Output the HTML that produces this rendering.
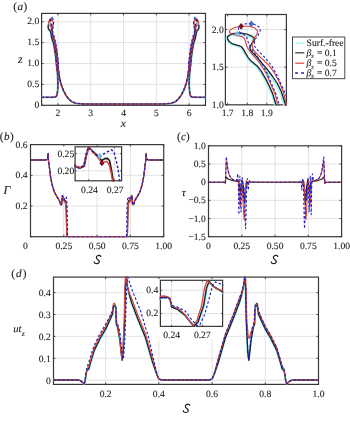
<!DOCTYPE html>
<html><head><meta charset="utf-8"><style>html,body{margin:0;padding:0;background:#fff;}svg{display:block;}text{font-family:"Liberation Serif", serif;fill:#1a1a1a;}svg{will-change:transform;filter:blur(0.3px);}text{text-rendering:geometricPrecision;stroke:#1a1a1a;stroke-width:0.1px;}</style></head><body>
<svg width="350" height="423" viewBox="0 0 350 423">
<rect width="350" height="423" fill="#fff"/>
<line x1="57.99" y1="13.4" x2="57.99" y2="105.3" stroke="#dedede" stroke-width="0.9"/>
<line x1="90.77" y1="13.4" x2="90.77" y2="105.3" stroke="#dedede" stroke-width="0.9"/>
<line x1="123.55" y1="13.4" x2="123.55" y2="105.3" stroke="#dedede" stroke-width="0.9"/>
<line x1="156.33" y1="13.4" x2="156.33" y2="105.3" stroke="#dedede" stroke-width="0.9"/>
<line x1="189.11" y1="13.4" x2="189.11" y2="105.3" stroke="#dedede" stroke-width="0.9"/>
<line x1="41.6" y1="84.41" x2="205.5" y2="84.41" stroke="#dedede" stroke-width="0.9"/>
<line x1="41.6" y1="63.53" x2="205.5" y2="63.53" stroke="#dedede" stroke-width="0.9"/>
<line x1="41.6" y1="42.64" x2="205.5" y2="42.64" stroke="#dedede" stroke-width="0.9"/>
<line x1="41.6" y1="21.75" x2="205.5" y2="21.75" stroke="#dedede" stroke-width="0.9"/>
<path d="M57.99 105.3v-2M57.99 13.4v2M90.77 105.3v-2M90.77 13.4v2M123.55 105.3v-2M123.55 13.4v2M156.33 105.3v-2M156.33 13.4v2M189.11 105.3v-2M189.11 13.4v2M41.6 105.3h2M205.5 105.3h-2M41.6 84.41h2M205.5 84.41h-2M41.6 63.53h2M205.5 63.53h-2M41.6 42.64h2M205.5 42.64h-2M41.6 21.75h2M205.5 21.75h-2" stroke="#383838" stroke-width="0.9" fill="none"/>
<rect x="41.6" y="13.4" width="163.9" height="91.9" fill="none" stroke="#383838" stroke-width="1.2"/>
<clipPath id="c1"><rect x="40.9" y="12.7" width="165.3" height="93.3"/></clipPath>
<g clip-path="url(#c1)">
<polyline points="41.6,97.36 50.78,97.36 54.06,97.28 55.86,96.74 56.84,95.27 57.5,91.93 57.69,84.41 57.37,73.97 56.1,63.8 55.58,57.98 54.99,53.54 54.42,49.7 53.65,45.26 52.9,42.1 52,39.66 51.41,37.44 50.98,34.99 50.69,33.16 50.34,31.72 49.99,31.05 49.4,30.55 48.73,29.83 48.26,28.72 48,27.22 48.03,26 48.31,25.45 48.87,24.72 49.62,24.39 50.22,24.39 51.14,24.89 51.91,25.89 52.37,26.94 52.45,28.22 52.21,29.44 51.91,30.72 51.7,32.27 51.78,33.66 52.13,35.16 52.8,37.38 53.57,40.55 54.54,44.26 55.45,48.21 56.3,52.37 56.99,57.09 57.66,64.19 57.86,65.62 58.68,73.97 59.83,80.24 61.14,84.83 63.1,90.26 65.56,94.86 68.48,98.83 71.76,101.75 76.02,103.29 82.58,103.92 97.33,104.05 123.55,104.05 149.77,104.05 164.53,103.92 171.08,103.29 175.34,101.75 178.62,98.83 181.54,94.86 184,90.26 185.96,84.83 187.27,80.24 188.42,73.97 189.24,65.62 189.44,64.19 190.11,57.09 190.8,52.37 191.65,48.21 192.56,44.26 193.53,40.55 194.3,37.38 194.97,35.16 195.32,33.66 195.4,32.27 195.19,30.72 194.89,29.44 194.65,28.22 194.73,26.94 195.19,25.89 195.96,24.89 196.88,24.39 197.48,24.39 198.23,24.72 198.79,25.45 199.07,26 199.1,27.22 198.84,28.72 198.37,29.83 197.7,30.55 197.11,31.05 196.76,31.72 196.41,33.16 196.12,34.99 195.69,37.44 195.1,39.66 194.2,42.1 193.45,45.26 192.68,49.7 192.11,53.54 191.52,57.98 191,63.8 189.73,73.97 189.41,84.41 189.6,91.93 190.26,95.27 191.24,96.74 193.04,97.28 196.32,97.36 205.5,97.36" fill="none" stroke="#a4f2f2" stroke-width="2.125" stroke-linejoin="round" stroke-linecap="butt"/>
<polyline points="41.6,97.36 50.78,97.36 54.06,97.28 55.86,96.74 56.84,95.27 57.5,91.93 57.83,84.41 57.5,73.97 56.25,63.53 55.73,57.7 55.14,53.26 54.58,49.43 53.81,44.99 53.05,41.82 52.15,39.38 51.56,37.16 51.13,34.72 50.84,32.88 50.49,31.44 50.14,30.78 49.55,30.28 48.88,29.55 48.42,28.44 48.15,26.94 48.15,25.67 48.5,24.78 49.05,24.06 49.8,23.73 50.41,23.73 51.33,24.22 52.1,25.22 52.55,26.28 52.63,27.56 52.4,28.78 52.1,30.05 51.88,31.61 51.96,33 52.32,34.49 52.98,36.72 53.75,39.88 54.73,43.6 55.63,47.54 56.48,51.7 57.17,56.42 57.84,63.53 57.99,65.62 58.81,73.97 59.96,80.24 61.27,84.83 63.23,90.26 65.69,94.86 68.48,98.83 71.76,101.75 76.02,103.29 82.58,103.92 97.33,104.05 123.55,104.05 149.77,104.05 164.53,103.92 171.08,103.29 175.34,101.75 178.62,98.83 181.41,94.86 183.87,90.26 185.83,84.83 187.14,80.24 188.29,73.97 189.11,65.62 189.26,63.53 189.93,56.42 190.62,51.7 191.47,47.54 192.37,43.6 193.35,39.88 194.12,36.72 194.78,34.49 195.14,33 195.22,31.61 195,30.05 194.7,28.78 194.47,27.56 194.55,26.28 195,25.22 195.77,24.22 196.69,23.73 197.3,23.73 198.05,24.06 198.6,24.78 198.95,25.67 198.95,26.94 198.68,28.44 198.22,29.55 197.55,30.28 196.96,30.78 196.61,31.44 196.26,32.88 195.97,34.72 195.54,37.16 194.95,39.38 194.05,41.82 193.29,44.99 192.52,49.43 191.96,53.26 191.37,57.7 190.85,63.53 189.6,73.97 189.27,84.41 189.6,91.93 190.26,95.27 191.24,96.74 193.04,97.28 196.32,97.36 205.5,97.36" fill="none" stroke="#1c1c1c" stroke-width="1.312" stroke-linejoin="round" stroke-linecap="butt"/>
<polyline points="41.6,97.36 50.78,97.36 54.06,97.28 55.86,96.74 56.84,95.27 57.5,91.93 57.96,84.41 57.63,73.97 56.52,63.53 56.15,58.09 55.4,52.26 54.71,46.71 54.11,43.38 53.57,40.55 52.83,37.55 52.06,34.55 51.61,32.55 51.33,30.89 51.16,28.67 50.99,26.72 50.61,25.67 49.84,25.11 49.07,24.5 48.6,23.73 48.43,22.89 48.63,21.73 49.45,20.51 50.41,19.95 51.75,19.95 52.72,20.89 53.17,22.67 53.02,24.67 52.62,26.28 52.33,28.39 52.25,30.78 52.47,33 52.93,34.88 53.57,36.88 54.32,39.21 55.19,42.1 55.91,45.49 56.72,50.32 57.42,55.87 58.02,63.53 58.12,65.62 58.94,73.97 60.09,80.24 61.4,84.83 63.37,90.26 65.82,94.86 68.48,98.83 71.76,101.75 76.02,103.29 82.58,103.92 97.33,104.05 123.55,104.05 149.77,104.05 164.53,103.92 171.08,103.29 175.34,101.75 178.62,98.83 181.28,94.86 183.73,90.26 185.7,84.83 187.01,80.24 188.16,73.97 188.98,65.62 189.08,63.53 189.68,55.87 190.38,50.32 191.19,45.49 191.91,42.1 192.78,39.21 193.53,36.88 194.17,34.88 194.63,33 194.85,30.78 194.77,28.39 194.48,26.28 194.08,24.67 193.93,22.67 194.38,20.89 195.35,19.95 196.69,19.95 197.65,20.51 198.47,21.73 198.67,22.89 198.5,23.73 198.03,24.5 197.26,25.11 196.49,25.67 196.11,26.72 195.94,28.67 195.77,30.89 195.49,32.55 195.04,34.55 194.27,37.55 193.53,40.55 192.99,43.38 192.39,46.71 191.7,52.26 190.95,58.09 190.58,63.53 189.47,73.97 189.14,84.41 189.6,91.93 190.26,95.27 191.24,96.74 193.04,97.28 196.32,97.36 205.5,97.36" fill="none" stroke="#d24444" stroke-width="1.188" stroke-linejoin="round" stroke-linecap="butt"/>
<polyline points="41.6,97.36 50.78,97.36 54.06,97.28 55.86,96.74 56.84,95.27 57.5,91.93 58.09,84.41 57.76,73.97 56.78,63.53 56.32,58.09 55.53,51.98 54.81,46.26 54.34,43.21 53.87,40.32 53.3,37.77 52.67,34.77 52.06,32 51.7,29.78 51.5,27.67 51.29,25.56 50.81,24.45 50.32,23.67 49.99,22.34 49.99,20.78 50.56,19.34 51.41,18.34 52.13,18.34 52.72,19.01 53.4,20.23 53.62,22.34 53.34,24.45 52.9,26.45 52.63,28.67 52.62,30.61 52.9,32.33 53.5,34.33 54.21,36.66 54.98,39.55 55.61,42.27 56.25,46.15 57.1,51.98 57.89,58.09 58.51,63.53 58.25,65.62 59.07,73.97 60.22,80.24 61.53,84.83 63.5,90.26 65.96,94.86 68.48,98.83 71.76,101.75 76.02,103.29 82.58,103.92 97.33,104.05 123.55,104.05 149.77,104.05 164.53,103.92 171.08,103.29 175.34,101.75 178.62,98.83 181.14,94.86 183.6,90.26 185.57,84.83 186.88,80.24 188.03,73.97 188.85,65.62 188.59,63.53 189.21,58.09 190,51.98 190.85,46.15 191.49,42.27 192.12,39.55 192.89,36.66 193.6,34.33 194.2,32.33 194.48,30.61 194.47,28.67 194.2,26.45 193.76,24.45 193.48,22.34 193.7,20.23 194.38,19.01 194.97,18.34 195.69,18.34 196.54,19.34 197.11,20.78 197.11,22.34 196.78,23.67 196.29,24.45 195.81,25.56 195.6,27.67 195.4,29.78 195.04,32 194.43,34.77 193.8,37.77 193.23,40.32 192.76,43.21 192.29,46.26 191.57,51.98 190.78,58.09 190.32,63.53 189.34,73.97 189.01,84.41 189.6,91.93 190.26,95.27 191.24,96.74 193.04,97.28 196.32,97.36 205.5,97.36" fill="none" stroke="#1e1ebe" stroke-width="1.125" stroke-dasharray="2.5,2.0" stroke-linejoin="round" stroke-linecap="butt"/>
<path d="M50.41 18.08L51.91 19.95L50.41 21.83L48.91 19.95Z" fill="#7a1020"/>
<path d="M196.69 18.08L198.19 19.95L196.69 21.83L195.19 19.95Z" fill="#7a1020"/>
<path d="M52.11 16.47L53.61 18.34L52.11 20.22L50.61 18.34Z" fill="#3a6cc8"/>
<path d="M194.99 16.47L196.49 18.34L194.99 20.22L193.49 18.34Z" fill="#3a6cc8"/>
<path d="M49.72 22.02L51.22 23.89L49.72 25.77L48.22 23.89Z" fill="#78b8e0"/>
<path d="M197.38 22.02L198.88 23.89L197.38 25.77L195.88 23.89Z" fill="#78b8e0"/>
</g>
<text x="57.99" y="115.9" text-anchor="middle" font-size="9.6">2</text>
<text x="90.77" y="115.9" text-anchor="middle" font-size="9.6">3</text>
<text x="123.55" y="115.9" text-anchor="middle" font-size="9.6">4</text>
<text x="156.33" y="115.9" text-anchor="middle" font-size="9.6">5</text>
<text x="189.11" y="115.9" text-anchor="middle" font-size="9.6">6</text>
<text x="39.2" y="107.9" text-anchor="end" font-size="9.6">0</text>
<text x="39.2" y="87.01" text-anchor="end" font-size="9.6">0.5</text>
<text x="39.2" y="66.13" text-anchor="end" font-size="9.6">1.0</text>
<text x="39.2" y="45.24" text-anchor="end" font-size="9.6">1.5</text>
<text x="39.2" y="24.35" text-anchor="end" font-size="9.6">2.0</text>
<text x="123.2" y="127.2" text-anchor="middle" font-size="11.5" font-style="italic">x</text>
<text x="20.4" y="62.9" text-anchor="middle" font-size="12" font-style="italic">z</text>
<text x="13.3" y="9.6" font-size="11.2" letter-spacing="0.4">(<tspan font-style="italic">a</tspan>)</text>
<rect x="225.4" y="14.5" width="61" height="90.3" fill="#fff"/>
<line x1="247.23" y1="14.5" x2="247.23" y2="104.8" stroke="#dedede" stroke-width="0.9"/>
<line x1="266.82" y1="14.5" x2="266.82" y2="104.8" stroke="#dedede" stroke-width="0.9"/>
<line x1="225.4" y1="67.18" x2="286.4" y2="67.18" stroke="#dedede" stroke-width="0.9"/>
<line x1="225.4" y1="29.55" x2="286.4" y2="29.55" stroke="#dedede" stroke-width="0.9"/>
<path d="M227.65 104.8v-2M227.65 14.5v2M247.23 104.8v-2M247.23 14.5v2M266.82 104.8v-2M266.82 14.5v2M225.4 104.8h2M286.4 104.8h-2M225.4 67.18h2M286.4 67.18h-2M225.4 29.55h2M286.4 29.55h-2" stroke="#383838" stroke-width="0.9" fill="none"/>
<rect x="225.4" y="14.5" width="61" height="90.3" fill="none" stroke="#383838" stroke-width="1.2"/>
<clipPath id="c2"><rect x="224.7" y="13.8" width="62.4" height="91.7"/></clipPath>
<g clip-path="url(#c2)">
<polyline points="188.49,165.75 243.32,165.75 262.9,165.6 273.67,164.62 279.55,161.99 283.46,155.97 284.64,142.42 282.68,123.61 275.1,105.3 272,94.8 268.5,86.8 265.1,79.9 260.5,71.9 256,66.2 250.6,61.8 247.1,57.8 244.5,53.4 242.8,50.1 240.7,47.5 238.6,46.3 235.1,45.4 231.1,44.1 228.3,42.1 226.7,39.4 226.9,37.2 228.6,36.2 231.9,34.9 236.4,34.3 240,34.3 245.5,35.2 250.1,37 252.8,38.9 253.3,41.2 251.9,43.4 250.1,45.7 248.8,48.5 249.3,51 251.4,53.7 255.4,57.7 260,63.4 265.8,70.1 271.2,77.2 276.3,84.7 280.4,93.2 284.4,106 285.62,108.56 290.51,123.61 297.37,134.9 305.2,143.18 316.95,152.96 331.64,161.24 349.06,168.39 368.65,173.65 394.1,176.44 433.27,177.57 521.39,177.79 678.05,177.79 834.71,177.79 922.84,177.57 962,176.44 987.46,173.65 1007.04,168.39 1024.47,161.24 1039.16,152.96 1050.91,143.18 1058.74,134.9 1065.59,123.61 1070.49,108.56 1071.71,106 1075.71,93.2 1079.81,84.7 1084.91,77.2 1090.31,70.1 1096.11,63.4 1100.71,57.7 1104.71,53.7 1106.81,51 1107.31,48.5 1106.01,45.7 1104.21,43.4 1102.81,41.2 1103.31,38.9 1106.01,37 1110.61,35.2 1116.11,34.3 1119.71,34.3 1124.21,34.9 1127.51,36.2 1129.21,37.2 1129.41,39.4 1127.81,42.1 1125.01,44.1 1121.01,45.4 1117.51,46.3 1115.41,47.5 1113.31,50.1 1111.61,53.4 1109.01,57.8 1105.51,61.8 1100.11,66.2 1095.61,71.9 1091.01,79.9 1087.61,86.8 1084.11,94.8 1081.01,105.3 1073.43,123.61 1071.47,142.42 1072.64,155.97 1076.56,161.99 1082.44,164.62 1093.21,165.6 1112.79,165.75 1167.62,165.75" fill="none" stroke="#a4f2f2" stroke-width="2.04" stroke-linejoin="round" stroke-linecap="butt"/>
<polyline points="188.49,165.75 243.32,165.75 262.9,165.6 273.67,164.62 279.55,161.99 283.46,155.97 285.42,142.42 283.46,123.61 276,104.8 272.9,94.3 269.4,86.3 266,79.4 261.4,71.4 256.9,65.7 251.5,61.3 248,57.3 245.4,52.9 243.7,49.6 241.6,47 239.5,45.8 236,44.9 232,43.6 229.2,41.6 227.6,38.9 227.6,36.6 229.7,35 233,33.7 237.5,33.1 241.1,33.1 246.6,34 251.2,35.8 253.9,37.7 254.4,40 253,42.2 251.2,44.5 249.9,47.3 250.4,49.8 252.5,52.5 256.5,56.5 261.1,62.2 266.9,68.9 272.3,76 277.4,83.5 281.5,92 285.5,104.8 286.4,108.56 291.3,123.61 298.15,134.9 305.98,143.18 317.73,152.96 332.42,161.24 349.06,168.39 368.65,173.65 394.1,176.44 433.27,177.57 521.39,177.79 678.05,177.79 834.71,177.79 922.84,177.57 962,176.44 987.46,173.65 1007.04,168.39 1023.69,161.24 1038.37,152.96 1050.12,143.18 1057.96,134.9 1064.81,123.61 1069.71,108.56 1070.61,104.8 1074.61,92 1078.71,83.5 1083.81,76 1089.21,68.9 1095.01,62.2 1099.61,56.5 1103.61,52.5 1105.71,49.8 1106.21,47.3 1104.91,44.5 1103.11,42.2 1101.71,40 1102.21,37.7 1104.91,35.8 1109.51,34 1115.01,33.1 1118.61,33.1 1123.11,33.7 1126.41,35 1128.51,36.6 1128.51,38.9 1126.91,41.6 1124.11,43.6 1120.11,44.9 1116.61,45.8 1114.51,47 1112.41,49.6 1110.71,52.9 1108.11,57.3 1104.61,61.3 1099.21,65.7 1094.71,71.4 1090.11,79.4 1086.71,86.3 1083.21,94.3 1080.11,104.8 1072.64,123.61 1070.69,142.42 1072.64,155.97 1076.56,161.99 1082.44,164.62 1093.21,165.6 1112.79,165.75 1167.62,165.75" fill="none" stroke="#1c1c1c" stroke-width="1.26" stroke-linejoin="round" stroke-linecap="butt"/>
<polyline points="188.49,165.75 243.32,165.75 262.9,165.6 273.67,164.62 279.55,161.99 283.46,155.97 286.2,142.42 284.25,123.61 277.6,104.8 275.4,95 270.9,84.5 266.8,74.5 263.2,68.5 260,63.4 255.6,58 251,52.6 248.3,49 246.6,46 245.6,42 244.6,38.5 242.3,36.6 237.7,35.6 233.1,34.5 230.3,33.1 229.3,31.6 230.5,29.5 235.4,27.3 241.1,26.3 249.1,26.3 254.9,28 257.6,31.2 256.7,34.8 254.3,37.7 252.6,41.5 252.1,45.8 253.4,49.8 256.2,53.2 260,56.8 264.5,61 269.7,66.2 274,72.3 278.8,81 283,91 286.6,104.8 287.18,108.56 292.08,123.61 298.93,134.9 306.77,143.18 318.52,152.96 333.2,161.24 349.06,168.39 368.65,173.65 394.1,176.44 433.27,177.57 521.39,177.79 678.05,177.79 834.71,177.79 922.84,177.57 962,176.44 987.46,173.65 1007.04,168.39 1022.9,161.24 1037.59,152.96 1049.34,143.18 1057.17,134.9 1064.03,123.61 1068.92,108.56 1069.51,104.8 1073.11,91 1077.31,81 1082.11,72.3 1086.41,66.2 1091.61,61 1096.11,56.8 1099.91,53.2 1102.71,49.8 1104.01,45.8 1103.51,41.5 1101.81,37.7 1099.41,34.8 1098.51,31.2 1101.21,28 1107.01,26.3 1115.01,26.3 1120.71,27.3 1125.61,29.5 1126.81,31.6 1125.81,33.1 1123.01,34.5 1118.41,35.6 1113.81,36.6 1111.51,38.5 1110.51,42 1109.51,46 1107.81,49 1105.11,52.6 1100.51,58 1096.11,63.4 1092.91,68.5 1089.31,74.5 1085.21,84.5 1080.71,95 1078.51,104.8 1071.86,123.61 1069.9,142.42 1072.64,155.97 1076.56,161.99 1082.44,164.62 1093.21,165.6 1112.79,165.75 1167.62,165.75" fill="none" stroke="#d24444" stroke-width="1.14" stroke-linejoin="round" stroke-linecap="butt"/>
<polyline points="188.49,165.75 243.32,165.75 262.9,165.6 273.67,164.62 279.55,161.99 283.46,155.97 286.99,142.42 285.03,123.61 279.2,104.8 276.4,95 271.7,84 267.4,73.7 264.6,68.2 261.8,63 258.4,58.4 254.6,53 251,48 248.8,44 247.6,40.2 246.4,36.4 243.5,34.4 240.6,33 238.6,30.6 238.6,27.8 242,25.2 247.1,23.4 251.4,23.4 254.9,24.6 259,26.8 260.3,30.6 258.6,34.4 256,38 254.4,42 254.3,45.5 256,48.6 259.6,52.2 263.8,56.4 268.4,61.6 272.2,66.5 276,73.5 281.1,84 285.8,95 289.5,104.8 287.97,108.56 292.86,123.61 299.72,134.9 307.55,143.18 319.3,152.96 333.99,161.24 349.06,168.39 368.65,173.65 394.1,176.44 433.27,177.57 521.39,177.79 678.05,177.79 834.71,177.79 922.84,177.57 962,176.44 987.46,173.65 1007.04,168.39 1022.12,161.24 1036.81,152.96 1048.56,143.18 1056.39,134.9 1063.24,123.61 1068.14,108.56 1066.61,104.8 1070.31,95 1075.01,84 1080.11,73.5 1083.91,66.5 1087.71,61.6 1092.31,56.4 1096.51,52.2 1100.11,48.6 1101.81,45.5 1101.71,42 1100.11,38 1097.51,34.4 1095.81,30.6 1097.11,26.8 1101.21,24.6 1104.71,23.4 1109.01,23.4 1114.11,25.2 1117.51,27.8 1117.51,30.6 1115.51,33 1112.61,34.4 1109.71,36.4 1108.51,40.2 1107.31,44 1105.11,48 1101.51,53 1097.71,58.4 1094.31,63 1091.51,68.2 1088.71,73.7 1084.41,84 1079.71,95 1076.91,104.8 1071.08,123.61 1069.12,142.42 1072.64,155.97 1076.56,161.99 1082.44,164.62 1093.21,165.6 1112.79,165.75 1167.62,165.75" fill="none" stroke="#1e1ebe" stroke-width="1.08" stroke-dasharray="2.5,2.0" stroke-linejoin="round" stroke-linecap="butt"/>
<path d="M241.1 22.93L243.8 26.3L241.1 29.68L238.4 26.3Z" fill="#7a1020"/>
<path d="M251.4 20.52L254.1 23.9L251.4 27.27L248.7 23.9Z" fill="#3a6cc8"/>
<path d="M237.1 30.75L239.7 34L237.1 37.25L234.5 34Z" fill="#78b8e0"/>
</g>
<text x="227.65" y="115.6" text-anchor="middle" font-size="9.6">1.7</text>
<text x="247.23" y="115.6" text-anchor="middle" font-size="9.6">1.8</text>
<text x="266.82" y="115.6" text-anchor="middle" font-size="9.6">1.9</text>
<text x="223.8" y="107.8" text-anchor="end" font-size="9.6">1.0</text>
<text x="223.8" y="70.18" text-anchor="end" font-size="9.6">1.5</text>
<text x="223.8" y="32.55" text-anchor="end" font-size="9.6">2.0</text>
<rect x="292.5" y="37.0" width="52.3" height="41.7" fill="#fff" stroke="#383838" stroke-width="0.9"/>
<line x1="295.2" y1="43.2" x2="304.3" y2="43.2" stroke="#a4f2f2" stroke-width="1.3"/>
<line x1="295.2" y1="52.8" x2="304.3" y2="52.8" stroke="#444" stroke-width="1.3"/>
<line x1="295.2" y1="63.2" x2="304.3" y2="63.2" stroke="#e05050" stroke-width="1.3"/>
<line x1="295.2" y1="73.0" x2="304.3" y2="73.0" stroke="#1e1ebe" stroke-width="1.3" stroke-dasharray="2.8,3.2"/>
<text x="306.6" y="46" text-anchor="start" font-size="9.6">Surf.-free</text>
<text x="306.4" y="55.7" font-size="9.6"><tspan font-style="italic">&#946;</tspan><tspan font-style="italic" font-size="6.6" dy="2.4">s</tspan><tspan dy="-2.4" dx="0.8"> = 0.1</tspan></text>
<text x="306.4" y="66.1" font-size="9.6"><tspan font-style="italic">&#946;</tspan><tspan font-style="italic" font-size="6.6" dy="2.4">s</tspan><tspan dy="-2.4" dx="0.8"> = 0.5</tspan></text>
<text x="306.4" y="75.9" font-size="9.6"><tspan font-style="italic">&#946;</tspan><tspan font-style="italic" font-size="6.6" dy="2.4">s</tspan><tspan dy="-2.4" dx="0.8"> = 0.7</tspan></text>
<line x1="63.8" y1="144.6" x2="63.8" y2="236.7" stroke="#dedede" stroke-width="0.9"/>
<line x1="97.1" y1="144.6" x2="97.1" y2="236.7" stroke="#dedede" stroke-width="0.9"/>
<line x1="130.4" y1="144.6" x2="130.4" y2="236.7" stroke="#dedede" stroke-width="0.9"/>
<line x1="30.5" y1="206" x2="163.7" y2="206" stroke="#dedede" stroke-width="0.9"/>
<line x1="30.5" y1="175.3" x2="163.7" y2="175.3" stroke="#dedede" stroke-width="0.9"/>
<rect x="56" y="145.3" width="67.5" height="47.5" fill="#fff"/>
<path d="M30.5 236.7v-2M30.5 144.6v2M63.8 236.7v-2M63.8 144.6v2M97.1 236.7v-2M97.1 144.6v2M130.4 236.7v-2M130.4 144.6v2M163.7 236.7v-2M163.7 144.6v2M30.5 236.7h2M163.7 236.7h-2M30.5 206h2M163.7 206h-2M30.5 175.3h2M163.7 175.3h-2M30.5 144.6h2M163.7 144.6h-2" stroke="#383838" stroke-width="0.9" fill="none"/>
<rect x="30.5" y="144.6" width="133.2" height="92.1" fill="none" stroke="#383838" stroke-width="1.2"/>
<clipPath id="c3"><rect x="29.8" y="143.9" width="134.6" height="93.5"/></clipPath>
<g clip-path="url(#c3)">
<polyline points="30.5,160 45.8,160 47.6,159 48.1,153.5 48.5,161 49.3,166.5 50.4,176 52,184.4 54.3,192 57.6,197.6 59.8,201.5 60.4,204.03 61.17,204.75 61.78,203.85 62.12,198.93 62.47,195.48 62.98,196.91 63.51,198.3 64.07,200.05 64.52,201.39 64.95,200.54 65.39,200.45 65.7,201.39 66.01,205.65 66.29,210.8 66.8,233.63 67.2,236.7 97.1,236.7 127,236.7 127.4,233.63 127.91,210.8 128.19,205.65 128.5,201.39 128.81,200.45 129.25,200.54 129.68,201.39 130.13,200.05 130.69,198.3 131.22,196.91 131.73,195.48 132.08,198.93 132.42,203.85 133.03,204.75 133.8,204.03 134.4,201.5 136.6,197.6 139.9,192 142.2,184.4 143.8,176 144.9,166.5 145.7,161 146.1,153.5 146.6,159 148.4,160 163.7,160" fill="none" stroke="#1c1c1c" stroke-width="1.312" stroke-linejoin="round" stroke-linecap="butt"/>
<polyline points="30.5,160 45.8,160 47.6,159 48.1,153.5 48.5,161 49.3,166.5 50.4,176 52,184.4 54.3,192 57.6,197.6 59.8,201.5 60.4,203.85 61.17,204.53 61.73,203.41 62.12,198.7 62.43,195.48 62.98,197.14 63.51,198.75 64.07,200.72 64.52,202.47 64.92,202.06 65.3,201.79 65.67,203.41 65.93,206.54 66.18,210.8 66.73,233.63 67.13,236.7 97.1,236.7 127.07,236.7 127.47,233.63 128.02,210.8 128.27,206.54 128.53,203.41 128.9,201.79 129.28,202.06 129.68,202.47 130.13,200.72 130.69,198.75 131.22,197.14 131.77,195.48 132.08,198.7 132.47,203.41 133.03,204.53 133.8,203.85 134.4,201.5 136.6,197.6 139.9,192 142.2,184.4 143.8,176 144.9,166.5 145.7,161 146.1,153.5 146.6,159 148.4,160 163.7,160" fill="none" stroke="#d24444" stroke-width="1.188" stroke-linejoin="round" stroke-linecap="butt"/>
<polyline points="30.5,160 45.8,160 47.6,159 48.1,153.5 48.5,161 49.3,166.5 50.4,176 52,184.4 54.3,192 57.6,197.6 59.8,201.5 60.4,204.3 61.17,204.97 61.73,203.18 62.08,198.26 62.39,195.48 62.98,197.14 63.51,198.75 64.18,199.55 64.85,198.39 65.55,197.23 66.01,196.6 66.4,197.58 66.85,202.78 67.1,206.54 67.29,210.8 67.46,233.63 67.86,236.7 97.1,236.7 126.34,236.7 126.74,233.63 126.91,210.8 127.1,206.54 127.35,202.78 127.8,197.58 128.19,196.6 128.65,197.23 129.35,198.39 130.02,199.55 130.69,198.75 131.22,197.14 131.81,195.48 132.12,198.26 132.47,203.18 133.03,204.97 133.8,204.3 134.4,201.5 136.6,197.6 139.9,192 142.2,184.4 143.8,176 144.9,166.5 145.7,161 146.1,153.5 146.6,159 148.4,160 163.7,160" fill="none" stroke="#1e1ebe" stroke-width="1.125" stroke-dasharray="2.5,2.0" stroke-linejoin="round" stroke-linecap="butt"/>
</g>
<text x="63.8" y="248.6" text-anchor="middle" font-size="9.6">0.25</text>
<text x="97.1" y="248.6" text-anchor="middle" font-size="9.6">0.50</text>
<text x="130.4" y="248.6" text-anchor="middle" font-size="9.6">0.75</text>
<text x="163.7" y="248.6" text-anchor="middle" font-size="9.6">1.00</text>
<text x="25.3" y="248.6" text-anchor="middle" font-size="9.6">0</text>
<text x="27.6" y="209" text-anchor="end" font-size="9.6">0.2</text>
<text x="27.6" y="178.3" text-anchor="end" font-size="9.6">0.4</text>
<text x="27.6" y="147.6" text-anchor="end" font-size="9.6">0.6</text>
<text x="6.9" y="194.4" text-anchor="middle" font-size="12" font-style="italic">&#915;</text>
<text x="-0.3" y="140" font-size="11.2" letter-spacing="0.5">(<tspan font-style="italic">b</tspan>)</text>
<path transform="translate(93.8 255.1)" d="M7.0 1.4C6.6 0.2 4.8 -0.1 3.4 0.8C2.1 1.7 2.4 3.3 3.8 4.3C5.3 5.3 6.0 6.3 5.2 7.6C4.4 8.7 2.2 8.9 1.0 8.0C0.6 7.7 0.4 7.2 0.5 6.8" fill="none" stroke="#1a1a1a" stroke-width="1.15" stroke-linecap="round"/>
<rect x="75.1" y="146.8" width="46.5" height="34" fill="#fff"/>
<line x1="88.72" y1="146.8" x2="88.72" y2="180.8" stroke="#dedede" stroke-width="0.9"/>
<line x1="114.41" y1="146.8" x2="114.41" y2="180.8" stroke="#dedede" stroke-width="0.9"/>
<line x1="75.1" y1="170.79" x2="121.6" y2="170.79" stroke="#dedede" stroke-width="0.9"/>
<line x1="75.1" y1="153.65" x2="121.6" y2="153.65" stroke="#dedede" stroke-width="0.9"/>
<path d="M88.72 180.8v-1.5M88.72 146.8v1.5M114.41 180.8v-1.5M114.41 146.8v1.5M75.1 170.79h1.5M121.6 170.79h-1.5M75.1 153.65h1.5M121.6 153.65h-1.5" stroke="#383838" stroke-width="0.9" fill="none"/>
<rect x="75.1" y="146.8" width="46.5" height="34" fill="none" stroke="#383838" stroke-width="1.2"/>
<clipPath id="c4"><rect x="74.4" y="146.1" width="47.9" height="35.4"/></clipPath>
<g clip-path="url(#c4)">
<polyline points="-116.81,68.08 -18.44,68.08 -6.87,65.85 -3.66,53.57 -1.09,70.31 4.06,82.59 11.13,103.81 21.42,122.56 36.2,139.53 57.42,152.04 71.56,160.74 75.4,166.4 80.4,168 84.3,166 86.5,155 88.7,147.3 92,150.5 95.4,153.6 99,157.5 101.9,160.5 104.7,158.6 107.5,158.4 109.5,160.5 111.5,170 113.3,181.5 116.55,232.49 119.12,239.34 311.37,239.34 503.62,239.34 506.19,232.49 509.44,181.5 511.24,170 513.24,160.5 515.24,158.4 518.04,158.6 520.84,160.5 523.74,157.5 527.34,153.6 530.74,150.5 534.04,147.3 536.24,155 538.44,166 542.34,168 547.34,166.4 551.17,160.74 565.32,152.04 586.53,139.53 601.32,122.56 611.61,103.81 618.68,82.59 623.82,70.31 626.39,53.57 629.61,65.85 641.18,68.08 739.54,68.08" fill="none" stroke="#1c1c1c" stroke-width="1.628" stroke-linejoin="round" stroke-linecap="butt"/>
<polyline points="-116.81,68.08 -18.44,68.08 -6.87,65.85 -3.66,53.57 -1.09,70.31 4.06,82.59 11.13,103.81 21.42,122.56 36.2,139.53 57.42,152.04 71.56,160.74 75.4,166 80.4,167.5 84,165 86.5,154.5 88.5,147.3 92,151 95.4,154.6 99,159 101.9,162.9 104.5,162 106.9,161.4 109.3,165 111,172 112.6,181.5 116.12,232.49 118.69,239.34 311.37,239.34 504.05,239.34 506.62,232.49 510.14,181.5 511.74,172 513.44,165 515.84,161.4 518.24,162 520.84,162.9 523.74,159 527.34,154.6 530.74,151 534.24,147.3 536.24,154.5 538.74,165 542.34,167.5 547.34,166 551.17,160.74 565.32,152.04 586.53,139.53 601.32,122.56 611.61,103.81 618.68,82.59 623.82,70.31 626.39,53.57 629.61,65.85 641.18,68.08 739.54,68.08" fill="none" stroke="#d24444" stroke-width="1.472" stroke-linejoin="round" stroke-linecap="butt"/>
<polyline points="-116.81,68.08 -18.44,68.08 -6.87,65.85 -3.66,53.57 -1.09,70.31 4.06,82.59 11.13,103.81 21.42,122.56 36.2,139.53 57.42,152.04 71.56,160.74 75.4,167 80.4,168.5 84,164.5 86.2,153.5 88.2,147.3 92,151 95.4,154.6 99.7,156.4 104,153.8 108.5,151.2 111.5,149.8 114,152 116.9,163.6 118.5,172 119.7,181.5 120.83,232.49 123.4,239.34 311.37,239.34 499.34,239.34 501.91,232.49 503.04,181.5 504.24,172 505.84,163.6 508.74,152 511.24,149.8 514.24,151.2 518.74,153.8 523.04,156.4 527.34,154.6 530.74,151 534.54,147.3 536.54,153.5 538.74,164.5 542.34,168.5 547.34,167 551.17,160.74 565.32,152.04 586.53,139.53 601.32,122.56 611.61,103.81 618.68,82.59 623.82,70.31 626.39,53.57 629.61,65.85 641.18,68.08 739.54,68.08" fill="none" stroke="#1e1ebe" stroke-width="1.395" stroke-dasharray="2.5,2.0" stroke-linejoin="round" stroke-linecap="butt"/>
<path d="M101.9 160.07L104.4 163.2L101.9 166.32L99.4 163.2Z" fill="#7a1020"/>
<path d="M99.7 153.28L102.2 156.4L99.7 159.53L97.2 156.4Z" fill="#78b8e0"/>
</g>
<text x="89.52" y="192.6" text-anchor="middle" font-size="9.6">0.24</text>
<text x="115.21" y="192.6" text-anchor="middle" font-size="9.6">0.27</text>
<text x="74.2" y="174.09" text-anchor="end" font-size="9.6">0.20</text>
<text x="74.2" y="156.95" text-anchor="end" font-size="9.6">0.25</text>
<line x1="241.78" y1="145.8" x2="241.78" y2="236.7" stroke="#dedede" stroke-width="0.9"/>
<line x1="275.05" y1="145.8" x2="275.05" y2="236.7" stroke="#dedede" stroke-width="0.9"/>
<line x1="308.33" y1="145.8" x2="308.33" y2="236.7" stroke="#dedede" stroke-width="0.9"/>
<line x1="208.5" y1="218.52" x2="341.6" y2="218.52" stroke="#dedede" stroke-width="0.9"/>
<line x1="208.5" y1="200.34" x2="341.6" y2="200.34" stroke="#dedede" stroke-width="0.9"/>
<line x1="208.5" y1="163.98" x2="341.6" y2="163.98" stroke="#dedede" stroke-width="0.9"/>
<path d="M208.5 236.7v-2M208.5 145.8v2M241.78 236.7v-2M241.78 145.8v2M275.05 236.7v-2M275.05 145.8v2M308.33 236.7v-2M308.33 145.8v2M341.6 236.7v-2M341.6 145.8v2M208.5 236.7h2M341.6 236.7h-2M208.5 218.52h2M341.6 218.52h-2M208.5 200.34h2M341.6 200.34h-2M208.5 182.16h2M341.6 182.16h-2M208.5 163.98h2M341.6 163.98h-2M208.5 145.8h2M341.6 145.8h-2" stroke="#383838" stroke-width="0.9" fill="none"/>
<rect x="208.5" y="145.8" width="133.1" height="90.9" fill="none" stroke="#383838" stroke-width="1.2"/>
<clipPath id="c5"><rect x="207.8" y="145.1" width="134.5" height="92.3"/></clipPath>
<g clip-path="url(#c5)">
<polyline points="208.5,182.3 224.8,182.3 225.4,183 226,177 226.6,177.4 228.5,179.2 231.7,180.3 236,181.1 237.6,181.4 238.5,181.5 239.5,186 240.4,192 241,188 241.6,182.5 242.6,181 243.5,188 244.3,198 244.9,203 245.5,194 246.2,184 247,182 275.05,182.3 303.1,182 303.9,184 304.6,194 305.2,203 305.8,198 306.6,188 307.5,181 308.5,182.5 309.1,188 309.7,192 310.6,186 311.6,181.5 312.5,181.4 314.1,181.1 318.4,180.3 321.6,179.2 323.5,177.4 324.1,177 324.7,183 325.3,182.3 341.6,182.3" fill="none" stroke="#1c1c1c" stroke-width="1.208" stroke-linejoin="round" stroke-linecap="butt"/>
<polyline points="208.5,182.3 224.6,182.3 225.3,183.3 225.9,172 226.4,161 227.1,164 228,170.5 229.2,175 231,178.3 233.5,180 236.5,180.9 238,179 238.6,184 239.2,195 239.8,202 240.3,206.4 240.8,198 241.3,186 241.8,180 242.4,188 243,200 243.6,212 244.2,219.6 244.7,212 245.2,196 245.8,184 246.4,180.5 247,186 247.6,183 248.4,182.3 275.05,182.3 301.7,182.3 302.5,183 303.1,186 303.7,180.5 304.3,184 304.9,196 305.4,212 305.9,219.6 306.5,212 307.1,200 307.7,188 308.3,180 308.8,186 309.3,198 309.8,206.4 310.3,202 310.9,195 311.5,184 312.1,179 313.6,180.9 316.6,180 319.1,178.3 320.9,175 322.1,170.5 323,164 323.7,161 324.2,172 324.8,183.3 325.5,182.3 341.6,182.3" fill="none" stroke="#d24444" stroke-width="1.092" stroke-linejoin="round" stroke-linecap="butt"/>
<polyline points="208.5,182.3 224.6,182.3 225.2,183.6 225.8,170 226.2,156.8 226.8,160 227.6,167 228.6,172.5 230,176.5 232,179 234.5,180.3 236.5,180.8 237.2,177 237.8,173.8 238.3,185 238.6,200 238.9,214.7 239.2,200 239.5,186 239.9,176 240.3,188 240.7,205 241,212 241.4,196 241.8,180 242.3,177.5 242.8,190 243.3,201 243.8,186 244.3,192 244.8,210 245.2,222 245.6,228.7 246,218 246.4,198 246.8,182 247.3,178.5 247.8,184 248.3,190 248.8,182.3 249.5,180.5 250.2,182.3 275.05,182.3 299.9,182.3 300.6,180.5 301.3,182.3 301.8,190 302.3,184 302.8,178.5 303.3,182 303.7,198 304.1,218 304.5,228.7 304.9,222 305.3,210 305.8,192 306.3,186 306.8,201 307.3,190 307.8,177.5 308.3,180 308.7,196 309.1,212 309.4,205 309.8,188 310.2,176 310.6,186 310.9,200 311.2,214.7 311.5,200 311.8,185 312.3,173.8 312.9,177 313.6,180.8 315.6,180.3 318.1,179 320.1,176.5 321.5,172.5 322.5,167 323.3,160 323.9,156.8 324.3,170 324.9,183.6 325.5,182.3 341.6,182.3" fill="none" stroke="#1e1ebe" stroke-width="1.035" stroke-dasharray="2.5,2.0" stroke-linejoin="round" stroke-linecap="butt"/>
</g>
<text x="208.5" y="248.6" text-anchor="middle" font-size="9.6">0</text>
<text x="241.78" y="248.6" text-anchor="middle" font-size="9.6">0.25</text>
<text x="275.05" y="248.6" text-anchor="middle" font-size="9.6">0.50</text>
<text x="308.33" y="248.6" text-anchor="middle" font-size="9.6">0.75</text>
<text x="341.6" y="248.6" text-anchor="middle" font-size="9.6">1.00</text>
<text x="205.8" y="239.7" text-anchor="end" font-size="9.6">&#8722;1.5</text>
<text x="205.8" y="221.52" text-anchor="end" font-size="9.6">&#8722;1.0</text>
<text x="205.8" y="203.34" text-anchor="end" font-size="9.6">&#8722;0.5</text>
<text x="205.8" y="185.16" text-anchor="end" font-size="9.6">0</text>
<text x="205.8" y="166.98" text-anchor="end" font-size="9.6">0.5</text>
<text x="205.8" y="148.8" text-anchor="end" font-size="9.6">1.0</text>
<text x="183.6" y="195.6" text-anchor="middle" font-size="11" font-style="italic">&#964;</text>
<text x="177" y="140" font-size="11.2" letter-spacing="0.2">(<tspan font-style="italic">c</tspan>)</text>
<path transform="translate(270.8 255.1)" d="M7.0 1.4C6.6 0.2 4.8 -0.1 3.4 0.8C2.1 1.7 2.4 3.3 3.8 4.3C5.3 5.3 6.0 6.3 5.2 7.6C4.4 8.7 2.2 8.9 1.0 8.0C0.6 7.7 0.4 7.2 0.5 6.8" fill="none" stroke="#1a1a1a" stroke-width="1.15" stroke-linecap="round"/>
<line x1="105.65" y1="277.1" x2="105.65" y2="384.4" stroke="#dedede" stroke-width="0.9"/>
<line x1="158.86" y1="277.1" x2="158.86" y2="384.4" stroke="#dedede" stroke-width="0.9"/>
<line x1="212.07" y1="277.1" x2="212.07" y2="384.4" stroke="#dedede" stroke-width="0.9"/>
<line x1="265.29" y1="277.1" x2="265.29" y2="384.4" stroke="#dedede" stroke-width="0.9"/>
<line x1="53.5" y1="380.2" x2="318.5" y2="380.2" stroke="#dedede" stroke-width="0.9"/>
<line x1="53.5" y1="358.3" x2="318.5" y2="358.3" stroke="#dedede" stroke-width="0.9"/>
<line x1="53.5" y1="336.4" x2="318.5" y2="336.4" stroke="#dedede" stroke-width="0.9"/>
<line x1="53.5" y1="314.5" x2="318.5" y2="314.5" stroke="#dedede" stroke-width="0.9"/>
<line x1="53.5" y1="292.6" x2="318.5" y2="292.6" stroke="#dedede" stroke-width="0.9"/>
<rect x="143" y="277.8" width="80.5" height="62" fill="#fff"/>
<path d="M105.65 384.4v-2M105.65 277.1v2M158.86 384.4v-2M158.86 277.1v2M212.07 384.4v-2M212.07 277.1v2M265.29 384.4v-2M265.29 277.1v2M318.5 384.4v-2M318.5 277.1v2M53.5 380.2h2M318.5 380.2h-2M53.5 358.3h2M318.5 358.3h-2M53.5 336.4h2M318.5 336.4h-2M53.5 314.5h2M318.5 314.5h-2M53.5 292.6h2M318.5 292.6h-2" stroke="#383838" stroke-width="0.9" fill="none"/>
<rect x="53.5" y="277.1" width="265" height="107.3" fill="none" stroke="#383838" stroke-width="1.2"/>
<clipPath id="c6"><rect x="52.8" y="276.4" width="266.4" height="108.7"/></clipPath>
<g clip-path="url(#c6)">
<polyline points="53.5,379.98 76.38,379.98 79.04,380.2 81.17,381.07 82.77,382.6 83.83,383.7 84.63,382.82 85.29,380.2 85.96,374.72 87.29,368.81 88.62,370.12 91.02,361.8 94.21,351.29 99.8,339.9 105.57,330.05 109.64,321.29 112.57,314.5 113.36,307.28 115.36,306.18 115.97,311 116.42,324.36 117.83,328.52 119.96,340.56 121.35,353.48 122.25,360.05 123.29,352.17 124.78,320.63 125.5,288.22 126.14,277.71 127.44,287.13 129.43,296.11 131.46,303.11 137.58,319.1 145.56,338.59 152.21,361.8 156.89,374.72 158.86,378.99 161.52,379.98 185.47,379.98 209.41,379.98 212.07,378.99 214.04,374.72 218.73,361.8 225.38,338.59 233.36,319.1 239.48,303.11 241.5,296.11 243.5,287.13 244.8,277.71 245.44,288.22 246.16,320.63 247.65,352.17 248.68,360.05 249.59,353.48 250.97,340.56 253.1,328.52 254.51,324.36 254.96,311 255.58,306.18 257.57,307.28 258.37,314.5 261.3,321.29 265.37,330.05 271.14,339.9 276.73,351.29 279.92,361.8 282.32,370.12 283.65,368.81 284.98,374.72 285.64,380.2 286.31,382.82 287.1,383.7 288.17,382.6 289.77,381.07 291.89,380.2 294.55,379.98 317.44,379.98" fill="none" stroke="#a4f2f2" stroke-width="2.125" stroke-linejoin="round" stroke-linecap="butt"/>
<polyline points="53.5,379.98 76.38,379.98 79.04,380.2 81.17,381.07 82.77,382.6 83.83,383.7 84.63,382.82 85.29,380.2 85.96,374.72 87.29,368.81 88.62,369.25 91.02,360.93 94.21,350.41 99.8,339.03 105.57,329.17 109.64,320.41 112.57,313.63 113.36,306.18 115.36,305.3 115.89,310.12 116.29,324.14 117.7,327.86 119.83,339.99 121.21,352.82 122.12,360.12 123.16,352.17 124.65,320.63 125.36,288.22 126,276.18 127.31,285.6 129.43,295.01 131.46,302.24 137.58,318.22 145.56,337.71 152.21,360.93 156.89,374.72 158.86,378.99 161.52,379.98 185.47,379.98 209.41,379.98 212.07,378.99 214.04,374.72 218.73,360.93 225.38,337.71 233.36,318.22 239.48,302.24 241.5,295.01 243.63,285.6 244.93,276.18 245.57,288.22 246.29,320.63 247.78,352.17 248.82,360.12 249.72,352.82 251.11,339.99 253.23,327.86 254.64,324.14 255.04,310.12 255.58,305.3 257.57,306.18 258.37,313.63 261.3,320.41 265.37,329.17 271.14,339.03 276.73,350.41 279.92,360.93 282.32,369.25 283.65,368.81 284.98,374.72 285.64,380.2 286.31,382.82 287.1,383.7 288.17,382.6 289.77,381.07 291.89,380.2 294.55,379.98 317.44,379.98" fill="none" stroke="#1c1c1c" stroke-width="1.312" stroke-linejoin="round" stroke-linecap="butt"/>
<polyline points="53.5,379.98 76.38,379.98 79.04,380.2 81.17,381.07 82.77,382.6 83.83,383.7 84.63,382.82 85.29,380.2 85.96,374.72 87.29,368.81 88.62,366.62 91.02,358.3 94.21,347.79 99.8,336.4 105.57,326.55 109.64,317.79 112.57,311 113.36,304.21 114.27,303.11 115.28,304.87 115.87,311.44 116.29,320.63 117.3,325.01 118.31,327.97 119.83,338.81 120.84,349.76 121.85,358.95 122.86,349.76 124.11,320.63 124.86,287.79 125.5,274.87 126.4,280.34 127.92,289.54 129.43,293.26 131.46,298.08 137.58,314.5 145.56,334.21 152.21,357.2 156.89,374.06 158.86,378.88 161.52,379.98 185.47,379.98 209.41,379.98 212.07,378.88 214.04,374.06 218.73,357.2 225.38,334.21 233.36,314.5 239.48,298.08 241.5,293.26 243.02,289.54 244.53,280.34 245.44,274.87 246.08,287.79 246.82,320.63 248.07,335.26 249.08,338.59 250.09,335.26 251.11,331.93 252.62,327.97 253.63,325.01 254.64,320.63 255.07,311.44 255.66,304.87 256.67,303.11 257.57,304.21 258.37,311 261.3,317.79 265.37,326.55 271.14,336.4 276.73,347.79 279.92,358.3 282.32,366.62 283.65,368.81 284.98,374.72 285.64,380.2 286.31,382.82 287.1,383.7 288.17,382.6 289.77,381.07 291.89,380.2 294.55,379.98 317.44,379.98" fill="none" stroke="#d24444" stroke-width="1.188" stroke-linejoin="round" stroke-linecap="butt"/>
<polyline points="53.5,379.98 76.38,379.98 79.04,380.2 81.17,381.07 82.5,382.6 83.57,383.7 84.36,382.82 85.03,380.2 85.69,373.63 87.02,367.06 88.35,363.77 91.02,355.01 94.21,345.16 99.8,334.21 105.57,324.36 109.64,316.69 112.57,310.56 113.36,306.62 115.87,307.06 116.4,321.29 117.81,324.14 119.83,331.58 121.35,346.25 122.86,358.95 123.63,357.2 124.86,338.81 126.14,305.96 126.91,284.28 127.65,276.84 128.93,280.34 129.51,282.31 132.26,290.41 140.24,310.12 148.22,336.4 154.87,364.87 158.06,378.44 161.52,379.98 185.47,379.98 209.41,379.98 212.07,378.88 214.04,374.06 218.73,357.2 225.38,334.21 233.36,314.5 239.48,298.08 241.1,293.26 242.62,289.54 244.14,280.34 245.04,274.87 245.68,287.79 246.42,320.63 247.67,349.76 248.68,360.05 249.7,349.76 250.71,338.81 252.22,327.97 253.23,325.01 254.25,320.63 254.67,311.44 255.26,304.87 256.27,303.11 257.17,304.21 258.37,311 261.3,317.79 265.37,326.55 271.14,336.4 276.73,347.79 279.92,358.3 282.32,366.62 283.65,368.81 284.98,374.72 285.64,380.2 286.31,382.82 287.1,383.7 288.17,382.6 289.77,381.07 291.89,380.2 294.55,379.98 317.44,379.98" fill="none" stroke="#1e1ebe" stroke-width="1.125" stroke-dasharray="2.5,2.0" stroke-linejoin="round" stroke-linecap="butt"/>
</g>
<text x="105.65" y="396.5" text-anchor="middle" font-size="9.6">0.2</text>
<text x="158.86" y="396.5" text-anchor="middle" font-size="9.6">0.4</text>
<text x="212.07" y="396.5" text-anchor="middle" font-size="9.6">0.6</text>
<text x="265.29" y="396.5" text-anchor="middle" font-size="9.6">0.8</text>
<text x="318.5" y="396.5" text-anchor="middle" font-size="9.6">1.0</text>
<text x="50.8" y="383.5" text-anchor="end" font-size="9.6">0</text>
<text x="50.8" y="361.6" text-anchor="end" font-size="9.6">0.1</text>
<text x="50.8" y="339.7" text-anchor="end" font-size="9.6">0.2</text>
<text x="50.8" y="317.8" text-anchor="end" font-size="9.6">0.3</text>
<text x="50.8" y="295.9" text-anchor="end" font-size="9.6">0.4</text>
<text x="13.3" y="332.0" font-size="10.5" font-style="italic">ut<tspan font-size="7.6" dy="4.0" dx="0.4">z</tspan></text>
<text x="11.3" y="276.9" font-size="11.2" letter-spacing="1.0">(<tspan font-style="italic">d</tspan>)</text>
<path transform="translate(182.8 403.9)" d="M7.0 1.4C6.6 0.2 4.8 -0.1 3.4 0.8C2.1 1.7 2.4 3.3 3.8 4.3C5.3 5.3 6.0 6.3 5.2 7.6C4.4 8.7 2.2 8.9 1.0 8.0C0.6 7.7 0.4 7.2 0.5 6.8" fill="none" stroke="#1a1a1a" stroke-width="1.15" stroke-linecap="round"/>
<rect x="160.4" y="280.3" width="62.2" height="46.1" fill="#fff"/>
<line x1="171.6" y1="280.3" x2="171.6" y2="326.4" stroke="#dedede" stroke-width="0.9"/>
<line x1="202.3" y1="280.3" x2="202.3" y2="326.4" stroke="#dedede" stroke-width="0.9"/>
<line x1="160.4" y1="313.59" x2="222.6" y2="313.59" stroke="#dedede" stroke-width="0.9"/>
<line x1="160.4" y1="290.31" x2="222.6" y2="290.31" stroke="#dedede" stroke-width="0.9"/>
<path d="M171.6 326.4v-1.5M171.6 280.3v1.5M202.3 326.4v-1.5M202.3 280.3v1.5M160.4 313.59h1.5M222.6 313.59h-1.5M160.4 290.31h1.5M222.6 290.31h-1.5" stroke="#383838" stroke-width="0.9" fill="none"/>
<rect x="160.4" y="280.3" width="62.2" height="46.1" fill="none" stroke="#383838" stroke-width="1.2"/>
<clipPath id="c7"><rect x="159.7" y="279.6" width="63.6" height="47.5"/></clipPath>
<g clip-path="url(#c7)">
<polyline points="-69.87,336.76 18.12,336.76 28.36,336.88 36.54,337.34 42.68,338.16 46.77,338.74 49.84,338.27 52.4,336.88 54.96,333.97 60.08,330.82 65.19,331.52 74.4,327.1 86.68,321.51 108.17,315.46 130.37,310.22 146.02,305.56 157.28,301.95 160.35,298.11 168.02,297.53 170.38,300.09 172.12,307.19 177.54,309.4 185.72,315.81 191.04,322.67 194.52,326.17 198.51,321.98 204.24,305.21 207.01,287.98 209.46,282.4 214.48,287.4 222.15,292.17 229.93,295.9 253.46,304.4 284.16,314.76 309.74,327.1 327.74,333.97 335.32,336.24 345.55,336.76 437.63,336.76 529.72,336.76 539.95,336.24 547.53,333.97 565.53,327.1 591.11,314.76 621.81,304.4 645.34,295.9 653.12,292.17 660.79,287.4 665.81,282.4 668.26,287.98 671.03,305.21 676.76,321.98 680.75,326.17 684.22,322.67 689.55,315.81 697.73,309.4 703.15,307.19 704.89,300.09 707.25,297.53 714.92,298.11 717.99,301.95 729.25,305.56 744.9,310.22 767.1,315.46 788.59,321.51 800.87,327.1 810.08,331.52 815.19,330.82 820.31,333.97 822.87,336.88 825.43,338.27 828.49,338.74 832.59,338.16 838.73,337.34 846.91,336.88 857.14,336.76 945.14,336.76" fill="none" stroke="#a4f2f2" stroke-width="2.21" stroke-linejoin="round" stroke-linecap="butt"/>
<polyline points="-69.87,336.76 18.12,336.76 28.36,336.88 36.54,337.34 42.68,338.16 46.77,338.74 49.84,338.27 52.4,336.88 54.96,333.97 60.08,330.82 65.19,331.06 74.4,326.63 86.68,321.04 108.17,314.99 130.37,309.75 146.02,305.1 157.28,301.49 160.35,297.53 168.02,297.06 170.07,299.62 171.6,307.08 177.03,309.05 185.21,315.5 190.53,322.33 194.01,326.2 198,321.98 203.73,305.21 206.49,287.98 208.95,281.58 213.96,286.59 222.15,291.59 229.93,295.43 253.46,303.93 284.16,314.29 309.74,326.63 327.74,333.97 335.32,336.24 345.55,336.76 437.63,336.76 529.72,336.76 539.95,336.24 547.53,333.97 565.53,326.63 591.11,314.29 621.81,303.93 645.34,295.43 653.12,291.59 661.3,286.59 666.32,281.58 668.77,287.98 671.54,305.21 677.27,321.98 681.26,326.2 684.74,322.33 690.06,315.5 698.24,309.05 703.67,307.08 705.2,299.62 707.25,297.06 714.92,297.53 717.99,301.49 729.25,305.1 744.9,309.75 767.1,314.99 788.59,321.04 800.87,326.63 810.08,331.06 815.19,330.82 820.31,333.97 822.87,336.88 825.43,338.27 828.49,338.74 832.59,338.16 838.73,337.34 846.91,336.88 857.14,336.76 945.14,336.76" fill="none" stroke="#1c1c1c" stroke-width="1.365" stroke-linejoin="round" stroke-linecap="butt"/>
<polyline points="-69.87,336.76 18.12,336.76 28.36,336.88 36.54,337.34 42.68,338.16 46.77,338.74 49.84,338.27 52.4,336.88 54.96,333.97 60.08,330.82 65.19,329.66 74.4,325.24 86.68,319.65 108.17,313.59 130.37,308.36 146.02,303.7 157.28,300.09 160.35,296.48 163.83,295.9 167.72,296.83 169.97,300.32 171.6,305.21 175.49,307.54 179.38,309.11 185.21,314.88 189.1,320.7 192.99,325.59 196.88,320.7 201.69,305.21 204.55,287.75 207.01,280.88 210.49,283.79 216.32,288.68 222.15,290.66 229.93,293.22 253.46,301.95 284.16,312.43 309.74,324.65 327.74,333.62 335.32,336.18 345.55,336.76 437.63,336.76 529.72,336.76 539.95,336.18 547.53,333.62 565.53,324.65 591.11,312.43 621.81,301.95 645.34,293.22 653.12,290.66 658.95,288.68 664.78,283.79 668.26,280.88 670.72,287.75 673.58,305.21 678.39,312.99 682.28,314.76 686.17,312.99 690.06,311.22 695.89,309.11 699.78,307.54 703.67,305.21 705.3,300.32 707.55,296.83 711.44,295.9 714.92,296.48 717.99,300.09 729.25,303.7 744.9,308.36 767.1,313.59 788.59,319.65 800.87,325.24 810.08,329.66 815.19,330.82 820.31,333.97 822.87,336.88 825.43,338.27 828.49,338.74 832.59,338.16 838.73,337.34 846.91,336.88 857.14,336.76 945.14,336.76" fill="none" stroke="#d24444" stroke-width="1.235" stroke-linejoin="round" stroke-linecap="butt"/>
<polyline points="-69.87,336.76 18.12,336.76 28.36,336.88 36.54,337.34 41.66,338.16 45.75,338.74 48.82,338.27 51.38,336.88 53.94,333.38 59.05,329.89 64.17,328.15 74.4,323.49 86.68,318.25 108.17,312.43 130.37,307.19 146.02,303.12 157.28,299.86 160.35,297.76 169.97,297.99 172.01,305.56 177.44,307.08 185.21,311.03 191.04,318.83 196.88,325.59 199.84,324.65 204.55,314.88 209.46,297.41 212.43,285.89 215.29,281.93 220.21,283.79 222.46,284.84 233,289.15 263.69,299.62 294.39,313.59 319.97,328.73 332.25,335.95 345.55,336.76 437.63,336.76 529.72,336.76 539.95,336.18 547.53,333.62 565.53,324.65 591.11,312.43 621.81,301.95 645.34,293.22 651.58,290.66 657.42,288.68 663.25,283.79 666.73,280.88 669.18,287.75 672.05,305.21 676.86,320.7 680.75,326.17 684.63,320.7 688.52,314.88 694.35,309.11 698.24,307.54 702.13,305.21 703.77,300.32 706.02,296.83 709.91,295.9 713.39,296.48 717.99,300.09 729.25,303.7 744.9,308.36 767.1,313.59 788.59,319.65 800.87,325.24 810.08,329.66 815.19,330.82 820.31,333.97 822.87,336.88 825.43,338.27 828.49,338.74 832.59,338.16 838.73,337.34 846.91,336.88 857.14,336.76 945.14,336.76" fill="none" stroke="#1e1ebe" stroke-width="1.17" stroke-dasharray="2.5,2.0" stroke-linejoin="round" stroke-linecap="butt"/>
</g>
<text x="171.6" y="337.9" text-anchor="middle" font-size="9.6">0.24</text>
<text x="202.3" y="337.9" text-anchor="middle" font-size="9.6">0.27</text>
<text x="158.2" y="315.99" text-anchor="end" font-size="9.6">0.2</text>
<text x="158.2" y="292.71" text-anchor="end" font-size="9.6">0.4</text>
</svg></body></html>
